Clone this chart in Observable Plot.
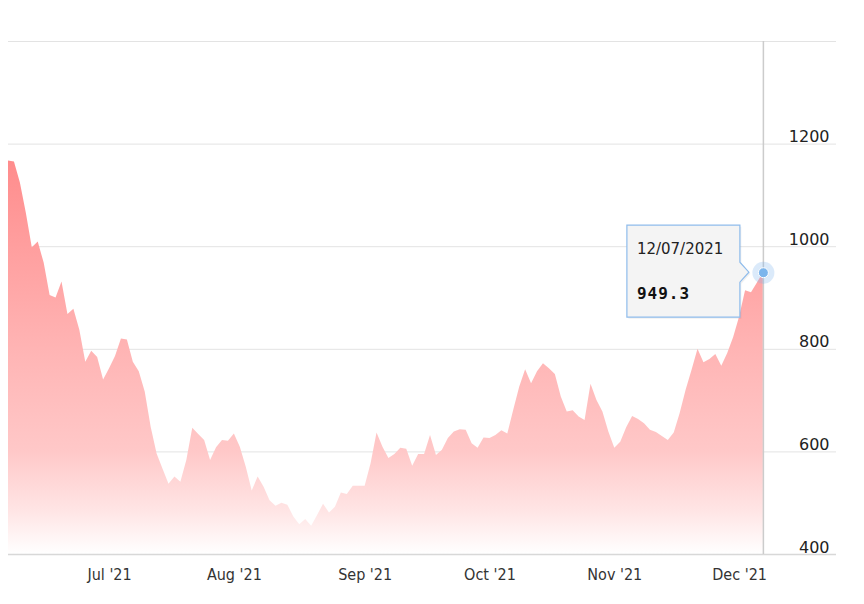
<!DOCTYPE html>
<html>
<head>
<meta charset="utf-8">
<script src="https://cdn.jsdelivr.net/npm/d3@7"></script>
<script src="https://cdn.jsdelivr.net/npm/@observablehq/plot@0.6"></script>
<style>
  html, body { margin: 0; padding: 0; background: #fff; }
  #chart { width: 864px; height: 604px; }
</style>
</head>
<body>
<div id="chart"></div>
<script>
// ---- data ----
const firstDay = "2021-06-08";
const lastDay = "2021-12-07";
const marketHolidays = ["2021-07-05", "2021-09-06", "2021-11-25"];
const values = [
  1167, 1165, 1124, 1065, 998, 1009, 968, 905, 900, 931,
  868, 878, 837, 775, 796, 784, 740, 762, 786, 820,
  818, 775, 756, 717, 648, 596, 566, 537, 551, 541,
  583, 646, 634, 622, 583, 608, 622, 621, 635, 609,
  570, 524, 551, 531, 505, 494, 500, 496, 473, 458,
  468, 455, 476, 498, 481, 492, 520, 517, 533, 533,
  533, 577, 637, 609, 587, 595, 607, 605, 572, 595,
  595, 632, 593, 603, 626, 639, 643, 642, 616, 607,
  627, 626, 632, 641, 635, 681, 726, 760, 733, 756,
  772, 762, 751, 707, 678, 680, 668, 661, 732, 700,
  678, 639, 607, 619, 647, 669, 663, 655, 642, 638,
  630, 622, 637, 675, 720, 759, 800, 774, 780, 790,
  767, 792, 823, 863, 914, 910, 929, 949.3
];
const monthLabels = ["Jul '21", "Aug '21", "Sep '21", "Oct '21", "Nov '21", "Dec '21"];
const yTicks = [400, 600, 800, 1000, 1200];
const yGrid = [400, 600, 800, 1000, 1200, 1400];
const tooltipValueText = "949.3";

(function () {
  // ---- build table ----
  const fmtISO = d3.utcFormat("%Y-%m-%d");
  const tradingDays = d3.utcDay.range(new Date(firstDay), d3.utcDay.offset(new Date(lastDay), 1))
    .filter(d => d.getUTCDay() !== 0 && d.getUTCDay() !== 6 && !marketHolidays.includes(fmtISO(d)));
  const n = Math.min(tradingDays.length, values.length);
  const data = d3.range(n).map(i => ({i, date: tradingDays[i], v: values[i]}));
  const monthStarts = data.filter((d, k) => k > 0 && d.date.getUTCMonth() !== data[k - 1].date.getUTCMonth()).map(d => d.i);
  const ticks = monthStarts.map((i, k) => ({i, label: monthLabels[k]}));
  const lastPt = data[n - 1];

  const chart = Plot.plot({
    width: 864,
    height: 604,
    marginLeft: 8,
    marginRight: 28,
    marginTop: 41,
    marginBottom: 50,
    style: {background: "#fff", overflow: "visible"},
    x: {type: "linear", domain: [0, (n - 1) * 139.3 / 127], axis: null},
    y: {domain: [400, 1400], axis: null},
    marks: [
      Plot.ruleY(yGrid, {stroke: "#e3e3e3", strokeWidth: 1}),
      Plot.areaY(data, {x: "i", y1: 400, y2: "v", fill: "url(#areaGrad)", curve: "linear"}),
      Plot.ruleY([400], {stroke: "#d8d8d8", strokeWidth: 1.5}),
      Plot.ruleX([lastPt.i], {stroke: "#cccccc", strokeWidth: 1.5}),
      Plot.text(yTicks, {y: d => d, frameAnchor: "right", textAnchor: "end", lineAnchor: "bottom",
        dx: -7, dy: -2, text: d => String(d), fontSize: 16, fill: "#222",
        fontFamily: "DejaVu Sans, Verdana, sans-serif"}),
      Plot.text(ticks, {x: "i", text: "label", frameAnchor: "bottom", dy: 25, fontSize: 16,
        fill: "#333", fontFamily: "Liberation Sans Narrow, DejaVu Sans Condensed, Arial Narrow, sans-serif"}),
      Plot.dot([lastPt], {x: "i", y: "v", r: 11, fill: "#7cb5ec", fillOpacity: 0.28, stroke: "none"}),
      Plot.dot([lastPt], {x: "i", y: "v", r: 5, fill: "#7cb5ec", stroke: "#ffffff", strokeWidth: 1})
    ]
  });

  const svg = d3.select(chart);
  const defs = svg.insert("defs", ":first-child");
  const grad = defs.append("linearGradient")
    .attr("id", "areaGrad")
    .attr("gradientUnits", "userSpaceOnUse")
    .attr("x1", 0).attr("x2", 0)
    .attr("y1", chart.scale("y").apply(1400))
    .attr("y2", chart.scale("y").apply(400));
  [[0, "#ff7a7a"], [0.23, "#ff8c8c"], [0.6, "#ffb4b4"], [0.8, "#ffc8c8"], [0.92, "#ffe6e6"], [1, "#ffffff"]]
    .forEach(([o, c]) => grad.append("stop").attr("offset", o).attr("stop-color", c));

  // tooltip anchored on the last point via scales
  const px = chart.scale("x").apply(lastPt.i);
  const py = chart.scale("y").apply(lastPt.v);
  const bxL = px - 136, bxR = px - 23, byT = py - 47, byB = py + 45;
  const tip = svg.append("g").attr("text-anchor", "start");
  const pathD = `M${bxL},${byT} H${bxR} V${py - 10} L${bxR + 9},${py} L${bxR},${py + 10} V${byB} H${bxL} Z`;
  tip.append("path").attr("d", pathD).attr("transform", "translate(1.5,1.5)")
    .attr("fill", "rgba(0,0,0,0.06)");
  tip.append("path").attr("d", pathD).attr("fill", "#f4f4f4").attr("stroke", "#8fbcec").attr("stroke-width", 1.2);
  const dfmt = d3.utcFormat("%m/%d/%Y");
  tip.append("text").attr("x", bxL + 10).attr("y", byT + 29).attr("text-anchor", "start")
    .attr("font-family", "DejaVu Sans, Verdana, sans-serif").attr("font-size", 15).attr("fill", "#222")
    .text(dfmt(lastPt.date));
  tip.append("text").attr("x", bxL + 10).attr("y", byT + 74).attr("text-anchor", "start")
    .attr("font-family", "DejaVu Sans Mono, Liberation Mono, monospace").attr("font-weight", "bold")
    .attr("font-size", 16).attr("fill", "#111").attr("letter-spacing", 1)
    .text(tooltipValueText);

  document.getElementById("chart").appendChild(chart);
})();
</script>
</body>
</html>
